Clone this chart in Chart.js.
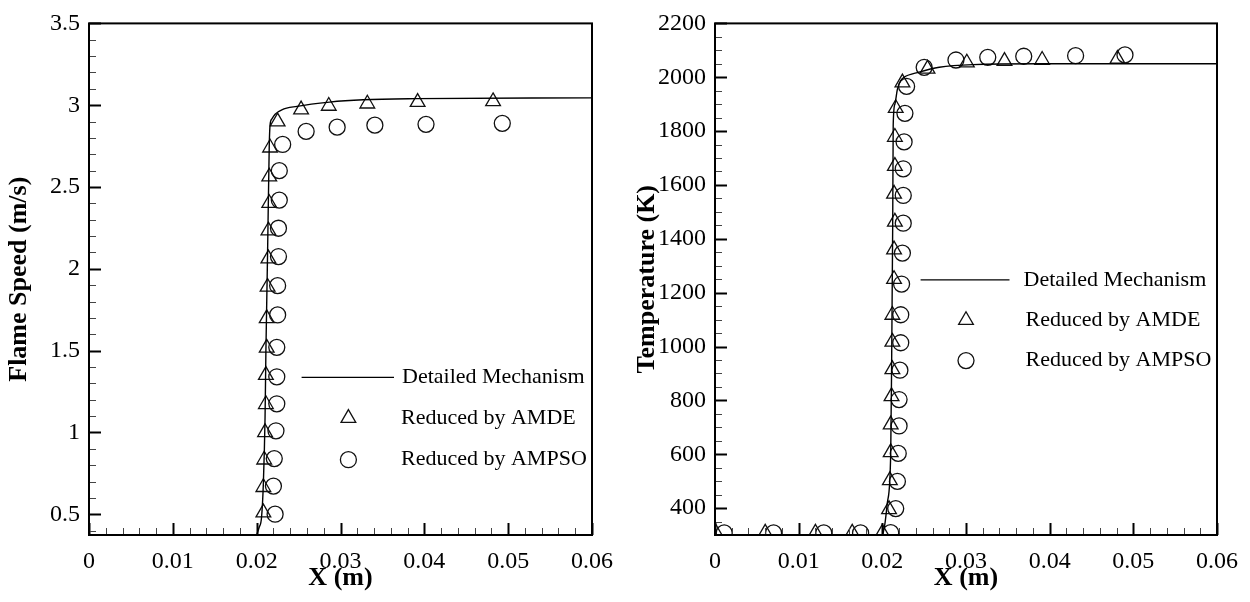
<!DOCTYPE html>
<html><head><meta charset="utf-8">
<script src="https://cdn.jsdelivr.net/npm/chart.js@4.4.1/dist/chart.umd.min.js"></script>
<style>
html,body{margin:0;padding:0;background:#fff;}
#wrap{position:relative;width:1250px;height:602px;overflow:hidden;}
canvas{position:absolute;top:0;}
</style></head><body>
<div id="wrap">
<canvas id="c1" width="625" height="602" style="left:0"></canvas>
<canvas id="c2" width="624" height="602" style="left:626px"></canvas>
</div>
<script>
// ---- tick labels ----
const xTicks = [0, 0.01, 0.02, 0.03, 0.04, 0.05, 0.06];
const xTickLabels = ['0', '0.01', '0.02', '0.03', '0.04', '0.05', '0.06'];
const speedTicks = [0.5, 1, 1.5, 2, 2.5, 3, 3.5];
const speedTickLabels = ['0.5', '1', '1.5', '2', '2.5', '3', '3.5'];
const tempTicks = [400, 600, 800, 1000, 1200, 1400, 1600, 1800, 2000, 2200];
const tempTickLabels = ['400', '600', '800', '1000', '1200', '1400', '1600', '1800', '2000', '2200'];
const legendLabels = ['Detailed Mechanism', 'Reduced by AMDE', 'Reduced by AMPSO'];

// ---- flame speed (left) ----
const speedDetailedX = [0.0200, 0.0203, 0.02058, 0.0208, 0.0210, 0.0211, 0.0213, 0.0215, 0.0216, 0.0218, 0.0222, 0.0230, 0.0248, 0.0287, 0.0327, 0.0390, 0.0600];
const speedDetailedY = [0.373, 0.42, 0.48, 0.69, 1.09, 1.49, 2.09, 2.75, 2.88, 2.915, 2.945, 2.972, 2.993, 3.019, 3.033, 3.040, 3.045];
const speedAmdeX = [0.0208, 0.0208, 0.0209, 0.0210, 0.0211, 0.0211, 0.0212, 0.0212, 0.0213, 0.0214, 0.0214, 0.0215, 0.0215, 0.0216, 0.0225, 0.0253, 0.0286, 0.0332, 0.0392, 0.0482];
const speedAmdeY = [0.51, 0.665, 0.833, 1.0, 1.172, 1.35, 1.517, 1.697, 1.889, 2.062, 2.233, 2.401, 2.563, 2.74, 2.90, 2.973, 2.995, 3.009, 3.019, 3.023];
const speedAmpsoX = [0.0222, 0.0220, 0.0221, 0.0223, 0.0224, 0.0224, 0.0224, 0.0225, 0.0225, 0.0226, 0.0226, 0.0227, 0.0227, 0.0231, 0.0259, 0.0296, 0.0341, 0.0402, 0.0493];
const speedAmpsoY = [0.50, 0.672, 0.84, 1.01, 1.175, 1.34, 1.52, 1.718, 1.897, 2.075, 2.248, 2.42, 2.60, 2.76, 2.84, 2.866, 2.878, 2.883, 2.889];

// ---- temperature (right) ----
const tempDetailedX = [0, 0.0200, 0.0203, 0.0206, 0.0210, 0.02112, 0.02124, 0.0213, 0.0215, 0.0218, 0.0222, 0.0226, 0.0244, 0.0268, 0.0308, 0.0387, 0.0600];
const tempDetailedY = [300, 300, 340, 420, 600, 970, 1457, 1823, 1900, 1955, 1988, 2000, 2019, 2037, 2047, 2050, 2050];
const tempAmdeX = [0.0001, 0.0060, 0.0120, 0.0164, 0.0200, 0.0208, 0.0209, 0.0210, 0.0210, 0.0211, 0.0212, 0.0212, 0.0212, 0.0214, 0.0214, 0.0215, 0.0214, 0.0215, 0.0215, 0.0216, 0.0224, 0.0254, 0.0301, 0.0346, 0.0391, 0.0481];
const tempAmdeY = [308, 308, 308, 308, 308, 395, 503, 607, 710, 815, 915, 1017, 1117, 1250, 1360, 1463, 1567, 1670, 1778, 1885, 1980, 2031, 2054, 2060, 2064, 2068];
const tempAmpsoX = [0.0011, 0.0070, 0.0130, 0.0174, 0.0210, 0.0216, 0.0218, 0.0219, 0.0220, 0.0220, 0.0221, 0.0222, 0.0222, 0.0223, 0.0224, 0.0225, 0.0225, 0.0225, 0.0226, 0.0227, 0.0229, 0.0250, 0.0288, 0.0326, 0.0369, 0.0431, 0.0490];
const tempAmpsoY = [308, 308, 308, 308, 309, 398, 499, 603, 705, 803, 912, 1014, 1118, 1232, 1347, 1458, 1561, 1660, 1760, 1866, 1966, 2037, 2064, 2074, 2078, 2080, 2083];

function pts(xs, ys) { return xs.map((x, i) => ({x: x, y: ys[i]})); }

const SERIF = "'Liberation Serif', 'Times New Roman', serif";

const frameTicks = {
  id: 'frameTicks',
  afterDatasetsDraw(chart, args, o) {
    const {ctx, chartArea: a} = chart;
    const xs = chart.scales.x, ys = chart.scales.y;
    ctx.save();
    ctx.strokeStyle = '#000';
    const r = v => Math.round(v * 1e6) / 1e6;
    const isMajor = (v, list) => list.some(m => Math.abs(m - v) < 1e-9);
    for (let i = 0; ; i++) {
      const v = r(xs.min + i * o.xMinor);
      if (v > xs.max + 1e-12) break;
      const major = isMajor(v, o.xMajor);
      const px = Math.round(xs.getPixelForValue(v)) + 0.5;
      ctx.lineWidth = major ? 2 : 1;
      ctx.strokeStyle = major ? '#000' : '#444';
      ctx.beginPath(); ctx.moveTo(px, a.bottom); ctx.lineTo(px, a.bottom - (major ? 12 : 7)); ctx.stroke();
    }
    for (let i = 0; ; i++) {
      const v = r(o.yMinorStart + i * o.yMinor);
      if (v > ys.max + 1e-9) break;
      if (v < ys.min) continue;
      const major = isMajor(v, o.yMajor);
      const py = Math.round(ys.getPixelForValue(v)) + 0.5;
      ctx.lineWidth = major ? 2 : 1;
      ctx.strokeStyle = major ? '#000' : '#444';
      ctx.beginPath(); ctx.moveTo(a.left, py); ctx.lineTo(a.left + (major ? 12 : 7), py); ctx.stroke();
    }
    ctx.strokeStyle = '#000';
    ctx.lineWidth = 2;
    ctx.strokeRect(a.left, a.top, a.right - a.left, a.bottom - a.top);
    ctx.restore();
  }
};

function drawMarker(ctx, style, radius, x, y) {
  ctx.save();
  ctx.strokeStyle = '#111';
  ctx.lineWidth = 1.3;
  ctx.beginPath();
  if (style === 'circle') {
    ctx.arc(x, y, radius, 0, Math.PI * 2);
  } else {
    for (let k = 0; k < 3; k++) {
      const ang = -Math.PI / 2 + k * 2 * Math.PI / 3;
      const px = x + Math.cos(ang) * radius, py = y + Math.sin(ang) * radius;
      if (k === 0) ctx.moveTo(px, py); else ctx.lineTo(px, py);
    }
    ctx.closePath();
  }
  ctx.stroke();
  ctx.restore();
}

const customLegend = {
  id: 'customLegend',
  afterDraw(chart, args, o) {
    const {ctx, chartArea: a} = chart;
    ctx.save();
    ctx.fillStyle = '#000';
    ctx.font = '22px ' + SERIF;
    ctx.textBaseline = 'middle';
    ctx.textAlign = 'left';
    ctx.strokeStyle = '#000';
    ctx.lineWidth = 1.3;
    ctx.beginPath();
    ctx.moveTo(a.left + o.lineX0, a.top + o.rows[0]);
    ctx.lineTo(a.left + o.lineX1, a.top + o.rows[0]);
    ctx.stroke();
    ctx.fillText(legendLabels[0], a.left + o.text0, a.top + o.rows[0]);
    drawMarker(ctx, 'triangle', 8.5, a.left + o.markX, a.top + o.rows[1]);
    ctx.fillText(legendLabels[1], a.left + o.text1, a.top + o.rows[1]);
    drawMarker(ctx, 'circle', 8, a.left + o.markX, a.top + o.rows[2]);
    ctx.fillText(legendLabels[2], a.left + o.text1, a.top + o.rows[2]);
    ctx.restore();
  }
};

function makeChart(id, cfg) {
  return new Chart(document.getElementById(id), {
    type: 'scatter',
    data: {
      datasets: [
        {label: legendLabels[0], data: pts(cfg.lineX, cfg.lineY), showLine: true, borderColor: '#000', borderWidth: 1.4,
         pointRadius: 0, pointHoverRadius: 0, cubicInterpolationMode: 'monotone', fill: false},
        {label: legendLabels[1], data: pts(cfg.amdeX, cfg.amdeY), showLine: false, pointStyle: 'triangle', pointRadius: 8.5,
         pointBorderColor: '#111', pointBackgroundColor: 'rgba(0,0,0,0)', pointBorderWidth: 1.3},
        {label: legendLabels[2], data: pts(cfg.ampsoX, cfg.ampsoY), showLine: false, pointStyle: 'circle', pointRadius: 8,
         pointBorderColor: '#111', pointBackgroundColor: 'rgba(0,0,0,0)', pointBorderWidth: 1.3}
      ]
    },
    options: {
      responsive: false,
      animation: false,
      events: [],
      layout: {padding: {top: 17, right: cfg.padRight, left: 0, bottom: 0}},
      plugins: {
        legend: {display: false},
        tooltip: {enabled: false},
        frameTicks: cfg.ticksOpts,
        customLegend: cfg.legendOpts
      },
      scales: {
        x: {
          type: 'linear', min: 0, max: 0.06,
          afterBuildTicks: s => { s.ticks = xTicks.map(v => ({value: v})); },
          afterFit: s => { s.height = 67; },
          grid: {display: false, drawTicks: false, tickLength: 0},
          border: {display: false},
          ticks: {color: '#000', font: {family: SERIF, size: 24}, padding: 12, maxRotation: 0, autoSkip: false,
                  callback: (v, i) => xTickLabels[i]},
          title: {display: true, text: 'X (m)', color: '#000', font: {family: SERIF, size: 26, weight: 'bold'},
                  padding: {top: 0, bottom: 8}}
        },
        y: {
          type: 'linear', min: cfg.yMin, max: cfg.yMax,
          afterBuildTicks: s => { s.ticks = cfg.yTicks.map(v => ({value: v})); },
          afterFit: s => { s.width = 89; },
          grid: {display: false, drawTicks: false, tickLength: 0},
          border: {display: false},
          ticks: {color: '#000', font: {family: SERIF, size: 24}, padding: 9, autoSkip: false,
                  callback: (v, i) => cfg.yLabels[i]},
          title: {display: true, text: cfg.yTitle, color: '#000', font: {family: SERIF, size: 26, weight: 'bold'},
                  padding: {top: cfg.titlePad, bottom: 0}}
        }
      }
    },
    plugins: [frameTicks, customLegend]
  });
}

makeChart('c1', {
  lineX: speedDetailedX, lineY: speedDetailedY,
  amdeX: speedAmdeX, amdeY: speedAmdeY,
  ampsoX: speedAmpsoX, ampsoY: speedAmpsoY,
  yMin: 0.373, yMax: 3.5, yTicks: speedTicks, yLabels: speedTickLabels,
  yTitle: 'Flame Speed (m/s)', titlePad: 4, padRight: 32,
  ticksOpts: {xMinor: 0.002, xMajor: xTicks, yMinor: 0.1, yMinorStart: 0.4, yMajor: speedTicks},
  legendOpts: {lineX0: 212.6, lineX1: 305, text0: 313, markX: 259.4, text1: 312, rows: [354, 394.7, 436.3]}
});

makeChart('c2', {
  lineX: tempDetailedX, lineY: tempDetailedY,
  amdeX: tempAmdeX, amdeY: tempAmdeY,
  ampsoX: tempAmpsoX, ampsoY: tempAmpsoY,
  yMin: 300, yMax: 2200, yTicks: tempTicks, yLabels: tempTickLabels,
  yTitle: 'Temperature (K)', titlePad: 5.5, padRight: 31,
  ticksOpts: {xMinor: 0.002, xMajor: xTicks, yMinor: 50, yMinorStart: 300, yMajor: tempTicks},
  legendOpts: {lineX0: 205.6, lineX1: 294.5, text0: 308.6, markX: 251, text1: 310.6, rows: [256.4, 296.8, 337.2]}
});
</script>
</body></html>
